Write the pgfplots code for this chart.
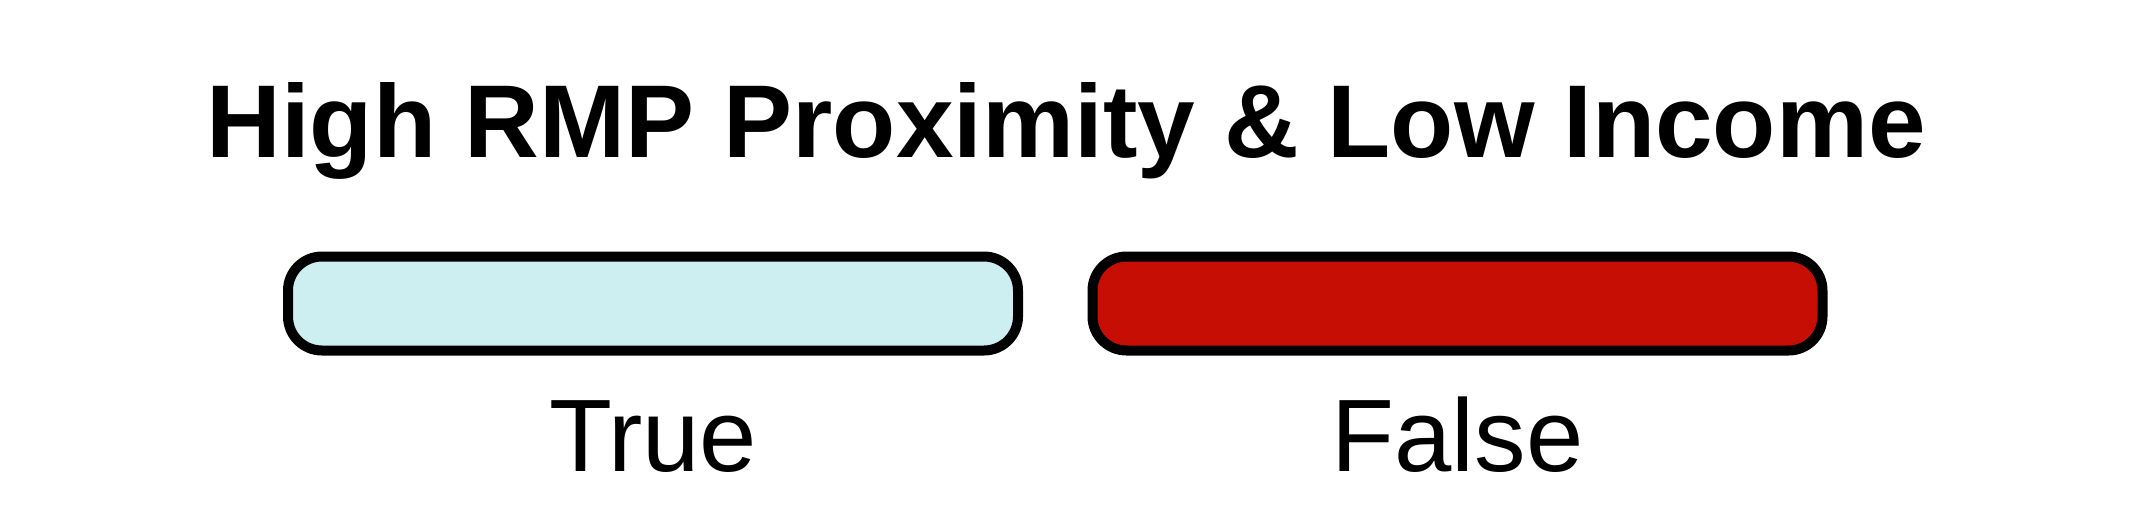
\documentclass[border=0pt]{standalone}
\usepackage{pgfplots}
\pgfplotsset{compat=1.18}
\usepackage{fontspec}
\setmainfont{Liberation Sans}
\definecolor{trueclr}{HTML}{CDEFF1}
\definecolor{falseclr}{HTML}{C70E04}
\begin{document}
\begin{tikzpicture}
\begin{axis}[
  scale only axis,
  width=426.4pt, height=102.4pt,
  xmin=0, xmax=2132, ymin=-162, ymax=350,
  axis line style={draw=none},
  major tick length=0pt,
  ytick=\empty,
  xtick={653,1457.5},
  xticklabels={True,False},
  xticklabel style={anchor=base, yshift=8.2pt, font=\fontsize{20.6}{24}\selectfont},
  title={High RMP Proximity \& Low Income},
  title style={at={(0.5,0.6934)}, anchor=base, font=\bfseries\fontsize{20.7}{24}\selectfont},
  every axis title shift=0pt,
  ybar, bar width=730,
  clip=false,
]
\addplot[bar shift=0pt, fill=trueclr, draw=black, line width=2pt, rounded corners=6.8pt] coordinates {(653,94)};
\addplot[bar shift=0pt, fill=falseclr, draw=black, line width=2pt, rounded corners=6.8pt] coordinates {(1457.5,94)};
\end{axis}
\end{tikzpicture}
\end{document}
